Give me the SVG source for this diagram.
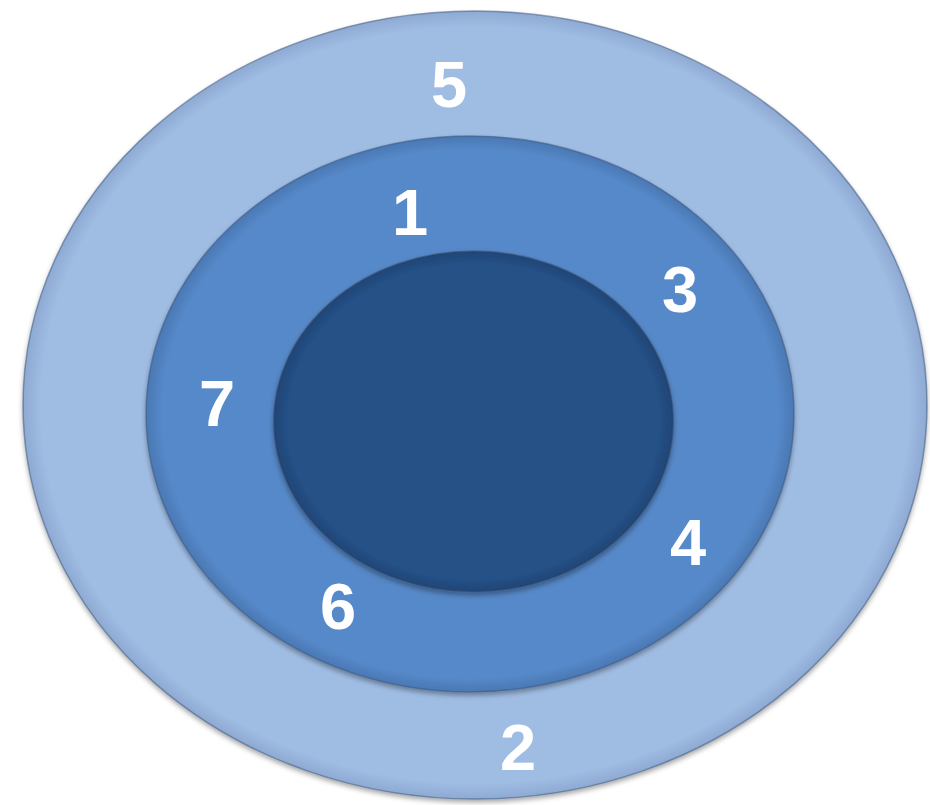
<svg xmlns="http://www.w3.org/2000/svg" width="930" height="805" viewBox="0 0 930 805">
  <style>
    .lbl { font-family: "Liberation Sans", Arial, sans-serif; font-weight: bold; font-size: 65px; fill: #ffffff; text-anchor: middle; }
    .ring { stroke: #3d5a80; stroke-opacity: 0.55; stroke-width: 1.5; filter: url(#sh); }
  </style>
  <defs>
    <filter id="sh" x="-5%" y="-5%" width="110%" height="112%">
      <feDropShadow dx="0" dy="3" stdDeviation="2.5" flood-color="#000" flood-opacity="0.35"/>
    </filter>
    <radialGradient id="g5" cx="50%" cy="50%" r="50%">
      <stop offset="0.96" stop-color="#9fbce3"/>
      <stop offset="1" stop-color="#8eaad3"/>
    </radialGradient>
    <radialGradient id="g1" cx="50%" cy="50%" r="50%">
      <stop offset="0.95" stop-color="#5689c9"/>
      <stop offset="1" stop-color="#4a78b4"/>
    </radialGradient>
    <radialGradient id="g0" cx="50%" cy="50%" r="50%">
      <stop offset="0.93" stop-color="#255187"/>
      <stop offset="1" stop-color="#1f4474"/>
    </radialGradient>
  </defs>
  <g id="outer">
    <ellipse class="ring" cx="475" cy="405" rx="452" ry="394" fill="url(#g5)"/>
  </g>
  <g id="middle">
    <ellipse class="ring" cx="470" cy="414" rx="324" ry="278" fill="url(#g1)"/>
  </g>
  <g id="inner">
    <ellipse class="ring" cx="473.5" cy="421.5" rx="200" ry="170.5" fill="url(#g0)"/>
  </g>
  <g id="labels">
    <text class="lbl" x="449" y="107">5</text>
    <text class="lbl" x="410" y="235">1</text>
    <text class="lbl" x="680" y="312">3</text>
    <text class="lbl" x="217" y="426">7</text>
    <text class="lbl" x="688" y="565">4</text>
    <text class="lbl" x="338" y="629">6</text>
    <text class="lbl" x="518" y="770">2</text>
  </g>
</svg>
